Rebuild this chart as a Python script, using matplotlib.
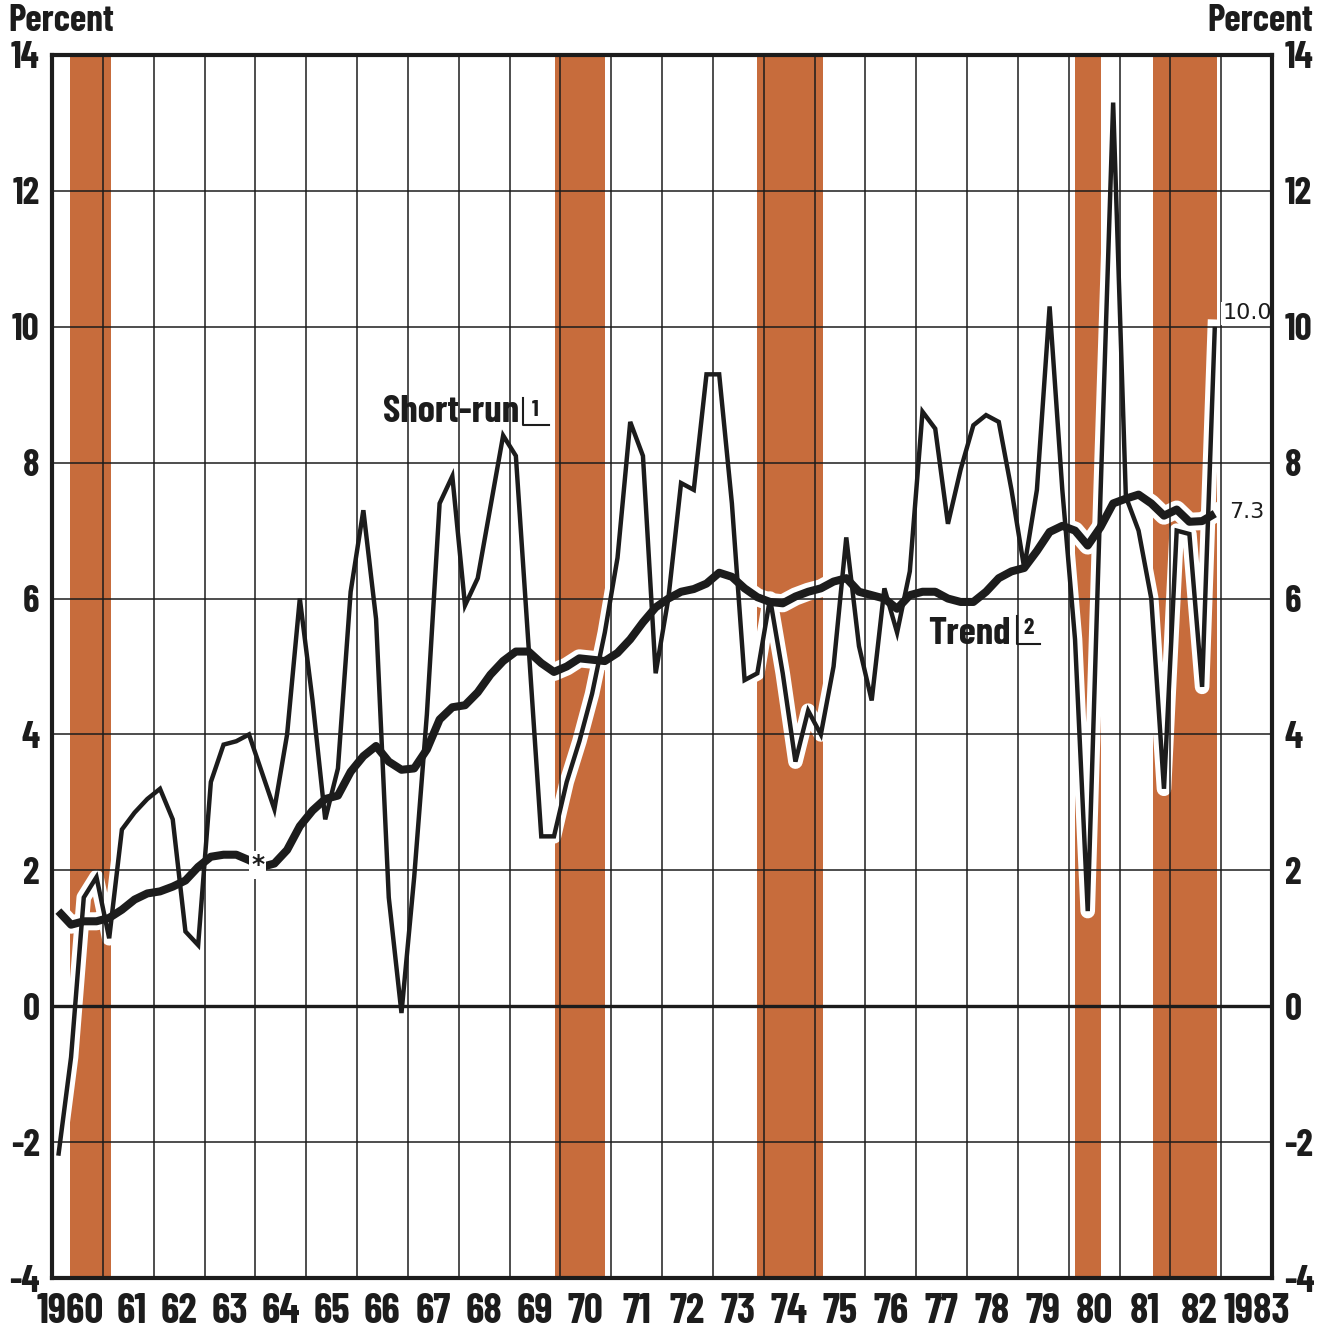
import numpy as np
import matplotlib.pyplot as plt
from matplotlib import font_manager as fm
from matplotlib.transforms import ScaledTranslation

# condensed bold face for the labels, with a fallback
installed = {f.name for f in fm.fontManager.ttflist}
if 'Barlow Condensed' in installed:
    COND = ['Barlow Condensed', 'DejaVu Sans']
    k = 1.0
else:
    COND = ['DejaVu Sans']
    k = 0.72

plt.rcParams['font.family'] = COND
plt.rcParams['font.weight'] = 'bold'
plt.rcParams['axes.unicode_minus'] = False

# quarterly values, 1960 Q1 .. 1982 Q4 (percent)
short_run = [
    -2.2, -0.75, 1.6, 1.9,      # 1960
    1.0, 2.6, 2.85, 3.05,       # 1961
    3.2, 2.75, 1.1, 0.9,        # 1962
    3.3, 3.85, 3.9, 4.0,        # 1963
    3.45, 2.9, 4.0, 6.0,        # 1964
    4.5, 2.75, 3.5, 6.1,        # 1965
    7.3, 5.7, 1.6, -0.1,        # 1966
    1.9, 4.3, 7.4, 7.8,         # 1967
    5.9, 6.3, 7.35, 8.4,        # 1968
    8.1, 5.3, 2.5, 2.5,         # 1969
    3.3, 3.9, 4.6, 5.5,         # 1970
    6.6, 8.6, 8.1, 4.9,         # 1971
    6.0, 7.7, 7.6, 9.3,         # 1972
    9.3, 7.4, 4.8, 4.9,         # 1973
    6.0, 4.9, 3.6, 4.35,        # 1974
    4.0, 5.0, 6.9, 5.3,         # 1975
    4.5, 6.15, 5.5, 6.4,        # 1976
    8.75, 8.5, 7.1, 7.9,        # 1977
    8.55, 8.7, 8.6, 7.6,        # 1978
    6.45, 7.6, 10.3, 7.6,       # 1979
    5.4, 1.4, 7.5, 13.3,        # 1980
    7.5, 7.0, 6.0, 3.2,         # 1981
    7.0, 6.95, 4.7, 10.0,       # 1982
]
trend = [
    1.4, 1.2, 1.25, 1.25,
    1.3, 1.42, 1.57, 1.66,
    1.69, 1.76, 1.85, 2.05,
    2.2, 2.23, 2.23, 2.15,
    2.05, 2.1, 2.3, 2.65,
    2.88, 3.05, 3.1, 3.45,
    3.68, 3.83, 3.6, 3.48,
    3.5, 3.78, 4.22, 4.4,
    4.43, 4.62, 4.88, 5.08,
    5.22, 5.22, 5.05, 4.92,
    5.0, 5.12, 5.1, 5.08,
    5.2, 5.4, 5.65, 5.87,
    6.0, 6.1, 6.14, 6.22,
    6.38, 6.32, 6.15, 6.02,
    5.95, 5.93, 6.03, 6.1,
    6.15, 6.25, 6.3, 6.1,
    6.05, 6.0, 5.85, 6.05,
    6.1, 6.1, 6.0, 5.95,
    5.95, 6.1, 6.3, 6.4,
    6.45, 6.7, 6.98, 7.07,
    7.0, 6.78, 7.05, 7.4,
    7.47, 7.53, 7.4, 7.22,
    7.31, 7.13, 7.14, 7.25,
]

# recessions (shaded)
rec_start = [1960.36, 1969.90, 1973.87, 1980.13, 1981.65]
rec_end = [1961.16, 1970.88, 1975.16, 1980.63, 1982.92]

year_labels = ['1960'] + [str(y % 100) for y in range(1961, 1983)] + ['1983']
y_ticks = list(range(-4, 15, 2))

ORANGE = '#C76C3C'
INK = '#1c1c1c'

quarters = 1960 + (np.arange(len(short_run)) + 0.5) / 4

fig = plt.figure(figsize=(13.3, 13.3), dpi=100)
ax = fig.add_axes([52 / 1330, 52 / 1330, 1220 / 1330, 1223 / 1330])

for s, e in zip(rec_start, rec_end):
    ax.axvspan(s, e, color=ORANGE, lw=0, zorder=1)

# white halos where lines cross the shading
ax.plot(quarters, short_run, color='white', lw=10.5, zorder=2,
        solid_joinstyle='round', solid_capstyle='projecting')
ax.plot(quarters, trend, color='white', lw=13, zorder=2,
        solid_joinstyle='round', solid_capstyle='projecting')

ax.plot(quarters, short_run, color=INK, lw=3.2, zorder=3,
        solid_joinstyle='miter', solid_capstyle='butt')
ax.plot(quarters, trend, color=INK, lw=5.8, zorder=3,
        solid_joinstyle='round', solid_capstyle='butt')

ax.set_xlim(1960, 1984)
ax.set_ylim(-4, 14)

ax.set_xticks(range(1960, 1985))
ax.set_xticklabels([])
ax.set_xticks(np.arange(1960.5, 1984, 1), minor=True)
ax.set_xticklabels(year_labels, minor=True)
ax.set_yticks(y_ticks)
ax.set_yticklabels([str(v) for v in y_ticks])

ax.set_axisbelow(False)
ax.grid(which='major', color=INK, lw=1.1)
ax.axhline(0, color=INK, lw=2.4, zorder=2.6)

for side in ['left', 'right', 'top', 'bottom']:
    ax.spines[side].set_linewidth(3)
    ax.spines[side].set_color(INK)
    ax.spines[side].set_zorder(6)

ax.tick_params(axis='both', which='both', length=0)
ax.tick_params(axis='y', labelleft=True, labelright=True, labelsize=27 * k,
               pad=9, labelcolor=INK)
ax.tick_params(axis='x', which='minor', labelsize=30 * k, pad=11,
               labelcolor=INK)

# the first and last year labels sit a little off-centre in the original
xlabels = ax.get_xticklabels(minor=True)
for lbl, dx in [(xlabels[0], -7), (xlabels[1], 4), (xlabels[-2], 3), (xlabels[-1], 10)]:
    lbl.set_transform(lbl.get_transform() + ScaledTranslation(dx / 100, 0, fig.dpi_scale_trans))

fig.text(8 / 1330, 1 - 21 / 1330, 'Percent', ha='left', va='center',
         fontsize=27 * k, color=INK)
fig.text(1313 / 1330, 1 - 21 / 1330, 'Percent', ha='right', va='center',
         fontsize=27 * k, color=INK)

# series labels with footnote brackets
ax.text(1966.52, 8.74, 'Short-run', ha='left', va='center', fontsize=28 * k,
        color=INK, zorder=5)
ax.plot([1969.27, 1969.27, 1969.77], [8.95, 8.56, 8.56], color=INK, lw=1.5,
        zorder=5)
ax.text(1969.5, 8.78, '1', ha='center', va='center', fontsize=17 * k,
        color=INK, zorder=5)

ax.text(1977.24, 5.48, 'Trend', ha='left', va='center', fontsize=28 * k,
        color=INK, zorder=5)
ax.plot([1978.98, 1978.98, 1979.43], [5.75, 5.33, 5.33], color=INK, lw=1.5,
        zorder=5)
ax.text(1979.21, 5.57, '2', ha='center', va='center', fontsize=17 * k,
        color=INK, zorder=5)

# end values
ax.text(1983.03, 10.2, '10.0', ha='left', va='center', fontsize=16,
        family='DejaVu Sans', weight='normal', color=INK, zorder=5,
        bbox=dict(facecolor='white', edgecolor='none', pad=1))
ax.text(1983.15, 7.28, '7.3', ha='left', va='center', fontsize=16,
        family='DejaVu Sans', weight='normal', color=INK, zorder=5)

# asterisk break in the trend line
ax.text(1964.05, 2.08, '*', ha='center', va='center', fontsize=18,
        family='DejaVu Sans', color=INK, zorder=5,
        bbox=dict(facecolor='white', edgecolor='none', pad=1.5))

fig.savefig('out.png', dpi=100)
